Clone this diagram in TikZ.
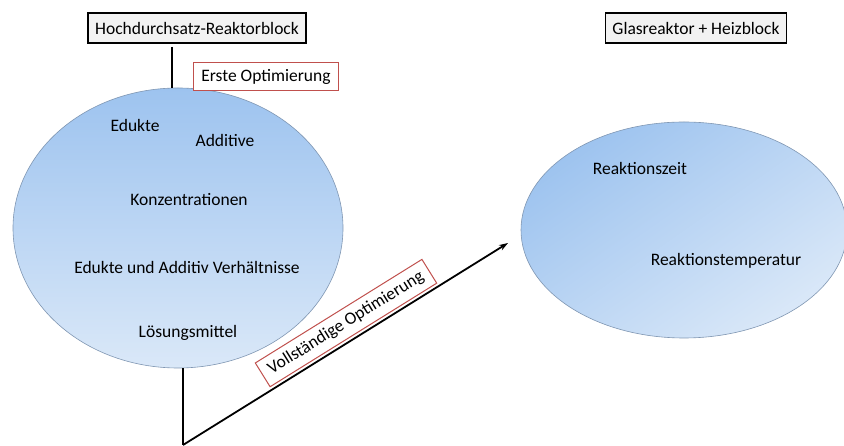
\documentclass[tikz,border=0pt]{standalone}
\usepackage{fontspec}
\setmainfont{Carlito}
\usetikzlibrary{arrows.meta}
\usetikzlibrary{shapes.geometric}
\usetikzlibrary{positioning}

\definecolor{blaudunkel}{HTML}{9DC3EF}
\definecolor{blauhell}{HTML}{DAE8F8}
\definecolor{rahmenrot}{HTML}{C0504D}
\definecolor{rahmenblau}{HTML}{7F96B2}

\begin{document}
\begin{tikzpicture}[x=1pt,y=1pt,font=\fontsize{17.5}{20}\selectfont,
  titel/.style={draw=black, line width=1.4pt, fill=black!5, inner xsep=7pt, inner ysep=4pt, minimum height=30pt},
  rotbox/.style={draw=rahmenrot, line width=1pt, fill=white, inner xsep=8pt, inner ysep=4pt, minimum height=28pt},
  blase/.style={ellipse, draw=rahmenblau, line width=0.6pt, inner sep=0pt}]

\useasboundingbox (0,0) rectangle (844,446);

\node[blase, minimum width=330, minimum height=280, top color=blaudunkel, bottom color=blauhell] (links) at (178,218) {};
\node[blase, minimum width=326, minimum height=216, top color=blaudunkel, bottom color=blauhell, shading angle=35] (rechts) at (684,216) {};

\node[titel] (hoch) at (197,418) {Hochdurchsatz-Reaktorblock};
\node[titel] (glas) at (696,418) {Glasreaktor + Heizblock};
\node[rotbox] (erste) at (266,369) {Erste Optimierung};

\node (edukte) at (135,321) {Edukte};
\node (additive) at (225,306) {Additive};
\node (konz) at (189,246) {Konzentrationen};
\node (verh) at (187,179) {Edukte und Additiv Verhältnisse};
\node (lm) at (188,113) {Lösungsmittel};

\node (zeit) at (640,278) {Reaktionszeit};
\node (temp) at (726,185) {Reaktionstemperatur};

\coordinate (oben) at (172,399);
\coordinate (knick) at (183,1);
\coordinate (spitze) at (508,203);

\draw[line width=1.8pt] (oben) -- (oben |- links.north);
\draw[line width=1.8pt] (links.south -| knick) -- (knick);
\draw[line width=1.8pt, -{Stealth[length=9pt,width=6pt]}] (knick) -- (spitze)
  node[rotbox, pos=0.53, sloped, above=3pt] (voll) {Vollständige Optimierung};

\end{tikzpicture}
\end{document}
